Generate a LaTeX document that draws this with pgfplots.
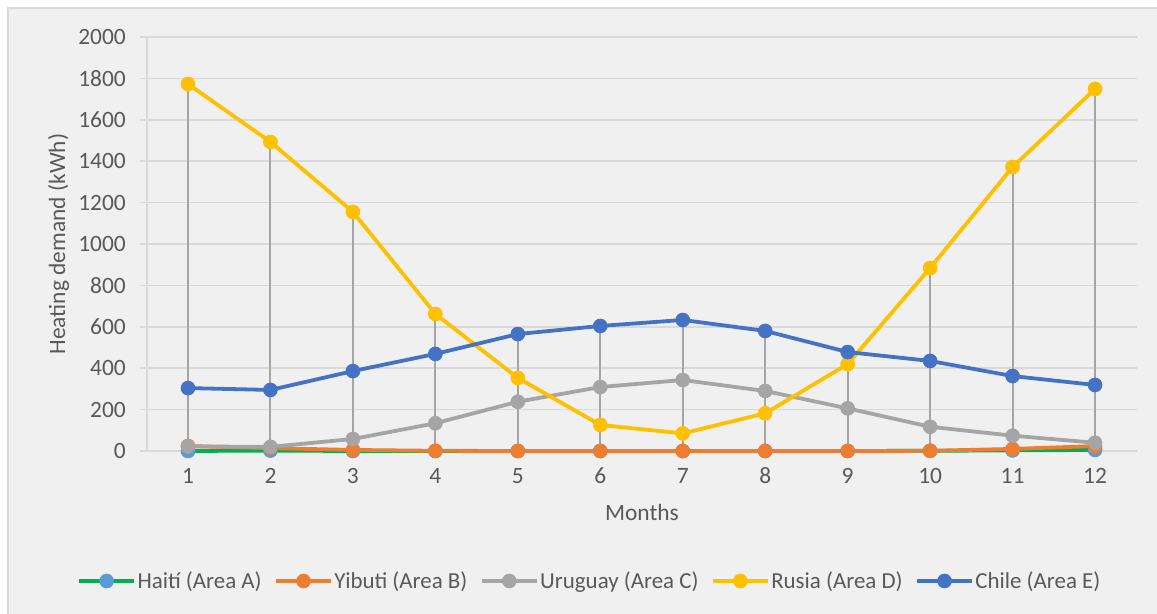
\documentclass[border=0pt]{standalone}
\usepackage{fontspec}
\setmainfont{Carlito}
\usepackage{pgfplots}
\pgfplotsset{compat=1.18}
\definecolor{bg}{HTML}{F0F0F0}
\definecolor{gridc}{HTML}{D9D9D9}
\definecolor{txt}{HTML}{595959}
\definecolor{dropc}{HTML}{A5A5A5}
\definecolor{cA}{HTML}{00B050}
\definecolor{cAm}{HTML}{5B9BD5}
\definecolor{cB}{HTML}{ED7D31}
\definecolor{cC}{HTML}{A5A5A5}
\definecolor{cD}{HTML}{FFC000}
\definecolor{cE}{HTML}{4472C4}
\begin{document}
\begin{tikzpicture}
\path[use as bounding box] (0bp,0bp) rectangle (1157bp,614bp);
\fill[bg] (8bp,0bp) rectangle (1157bp,606bp);
\draw[gridc, line width=1.5bp] (8bp,0bp) -- (8bp,606bp) -- (1157bp,606bp);
\begin{axis}[
  at={(140bp,163bp)}, anchor=south west,
  scale only axis, width=997bp, height=414bp,
  xmin=0.4179, xmax=12.509, ymin=0, ymax=2000,
  clip=false,
  axis line style={draw=none},
  xtick={1,...,12}, ytick={0,200,...,2000},
  major tick length=0pt,
  ymajorgrids, grid style={gridc, line width=1.5bp},
  tick label style={font=\fontsize{23.5}{27}\selectfont, text=txt},
  /pgf/number format/assume math mode=true,
  /pgf/number format/1000 sep={},
  yticklabel style={anchor=east, inner sep=0pt, xshift=-14bp},
  xticklabel style={anchor=base, inner sep=0pt, yshift=-33bp},
  xlabel={Months}, ylabel={Heating demand (kWh)},
  label style={font=\fontsize{23.5}{27}\selectfont, text=txt},
  xlabel style={at={(axis description cs:0.5035,-0.16667)}, anchor=base, inner sep=0pt},
  ylabel style={at={(axis description cs:-0.07522,0.5)}, anchor=base, inner sep=0pt},
  legend columns=5,
  legend style={at={(axis description cs:0.4509,-0.314)}, anchor=center, draw=none, fill=none,
    font=\fontsize{23}{27}\selectfont, text=txt, nodes={inner sep=1.5bp},
    /tikz/every even column/.append style={column sep=11bp}},
  legend image code/.code={\draw[mark repeat=2,mark phase=2] plot coordinates {(0bp,0bp)(27.5bp,0bp)(55bp,0bp)};},
  every axis plot/.append style={line width=3.8bp, line join=round, mark=*, mark size=7bp},
]
\draw[gridc, line width=1.5bp] (axis cs:0.5,0) -- (axis cs:0.5,2000);
\addplot[ycomb, draw=dropc, line width=2bp, no marks, forget plot] coordinates {
(1,1773) (2,1493) (3,1155) (4,662) (5,565) (6,604) (7,633) (8,580) (9,478) (10,884) (11,1372) (12,1749)};
\addplot[color=cA, mark options={draw=cAm, fill=cAm, line width=0.6bp}] coordinates {
(1,0) (2,2) (3,0) (4,0) (5,0) (6,0) (7,0) (8,0) (9,0) (10,1) (11,3) (12,5)};
\addlegendentry{Haití (Area A)}
\addplot[color=cB, mark options={draw=cB, fill=cB, line width=0.6bp}] coordinates {
(1,24) (2,14) (3,5) (4,1) (5,0) (6,0) (7,0) (8,0) (9,0) (10,1) (11,10) (12,24)};
\addlegendentry{Yibuti (Area B)}
\addplot[color=cC, mark options={draw=cC, fill=cC, line width=0.6bp}] coordinates {
(1,22) (2,20) (3,58) (4,134) (5,238) (6,309) (7,343) (8,290) (9,206) (10,117) (11,74) (12,40)};
\addlegendentry{Uruguay (Area C)}
\addplot[color=cD, mark options={draw=cD, fill=cD, line width=0.6bp}] coordinates {
(1,1773) (2,1493) (3,1155) (4,662) (5,353) (6,126) (7,85) (8,182) (9,420) (10,884) (11,1372) (12,1749)};
\addlegendentry{Rusia (Area D)}
\addplot[color=cE, mark options={draw=cE, fill=cE, line width=0.6bp}] coordinates {
(1,304) (2,295) (3,386) (4,469) (5,565) (6,604) (7,633) (8,580) (9,478) (10,435) (11,362) (12,319)};
\addlegendentry{Chile (Area E)}
\end{axis}
\end{tikzpicture}
\end{document}
